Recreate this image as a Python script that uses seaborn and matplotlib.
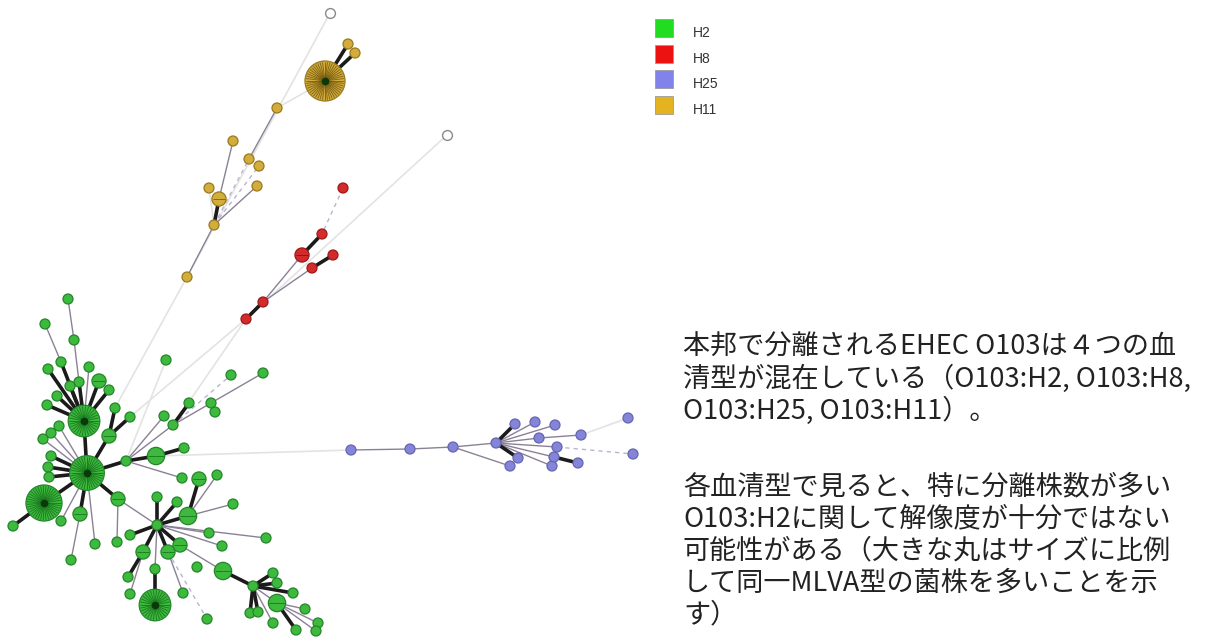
import numpy as np
import pandas as pd
import matplotlib
matplotlib.use("Agg")
import matplotlib.pyplot as plt
import seaborn as sns
from matplotlib.collections import LineCollection

# ---- MLVA minimum spanning tree: nodes (pixel layout), strain counts, serotype ----
node_id = [
    # H2
    "g1", "g2", "g3", "g4", "g5", "g6", "g7", "g8", "g9", "g10",
    "g11", "g12", "g13", "gA", "g15", "g16", "g17", "g18", "g19", "g20",
    "g21", "g22", "g23", "gB", "gC", "g26", "g27", "g28", "g29", "g30",
    "g31", "g32", "g33", "g34", "g35", "g36", "g37", "g38", "g39", "g40",
    "g41", "g42", "g43", "g44", "g45", "gD", "g47", "g48", "g49", "g50",
    "g51", "g52", "g53", "g54", "g55", "g56", "g57", "g58", "g59", "g60",
    "gE", "g62", "g63", "g64", "g65", "gF", "g67", "g68", "g69", "g70",
    "g71", "g72", "g73", "g74", "g75", "g76", "g77",
    # H11
    "y1", "y2", "y3", "yH", "y5", "y6", "y7", "y8", "y9", "y10", "y11", "y12", "y13",
    # H8
    "r1", "r2", "r3", "r4", "r5", "r6", "r7", "r8",
    # H25
    "b1", "b2", "b3", "bH", "b5", "b6", "b7", "b8", "b9", "b10",
    "b11", "b12", "b13", "b14", "b15", "b16", "b17",
]
node_x = [
    68, 45, 74, 61, 48, 89, 166, 79, 99, 109,
    70, 57, 47, 84, 115, 130, 109, 59, 51, 43,
    51, 48, 49, 87, 44, 13, 61, 80, 95, 71,
    118, 117, 126, 156, 184, 182, 164, 173, 189, 211,
    215, 231, 263, 199, 217, 157, 157, 177, 188, 233,
    130, 143, 168, 180, 209, 222, 266, 197, 223, 155,
    155, 128, 130, 183, 207, 253, 273, 277, 293, 277,
    250, 258, 273, 305, 296, 318, 316,
    330, 348, 355, 325, 277, 233, 249, 259, 209, 257, 219, 214, 187,
    447, 343, 322, 302, 333, 312, 263, 246,
    351, 410, 453, 496, 515, 535, 555, 539, 581, 628,
    557, 633, 510, 518, 552, 554, 578,
]
node_y = [
    299, 324, 340, 362, 369, 367, 360, 382, 381, 390,
    386, 396, 405, 421, 408, 417, 436, 426, 433, 439,
    456, 467, 477, 473, 503, 526, 521, 514, 544, 560,
    499, 542, 461, 456, 448, 478, 416, 425, 403, 403,
    412, 375, 373, 479, 475, 525, 497, 502, 516, 504,
    535, 552, 552, 545, 533, 546, 538, 567, 571, 569,
    605, 577, 594, 593, 619, 586, 573, 583, 593, 603,
    613, 612, 623, 609, 630, 623, 631,
    13, 44, 53, 81, 108, 141, 159, 166, 188, 186, 199, 225, 277,
    135, 188, 234, 255, 255, 268, 302, 319,
    450, 449, 447, 443, 424, 422, 425, 438, 435, 418,
    447, 454, 466, 458, 466, 457, 463,
]
node_count = [
    1, 1, 1, 1, 1, 1, 1, 1, 2, 1,
    1, 1, 1, 10, 1, 1, 2, 1, 1, 1,
    1, 1, 1, 12, 13, 1, 1, 2, 1, 1,
    2, 1, 1, 3, 1, 1, 1, 1, 1, 1,
    1, 1, 1, 2, 1, 1, 1, 1, 3, 1,
    1, 2, 2, 2, 1, 1, 1, 1, 3, 1,
    10, 1, 1, 1, 1, 1, 1, 1, 1, 3,
    1, 1, 1, 1, 1, 1, 1,
    0, 1, 1, 16, 1, 1, 1, 1, 1, 1, 2, 1, 1,
    0, 1, 1, 2, 1, 1, 1, 1,
    1, 1, 1, 1, 1, 1, 1, 1, 1, 1,
    1, 1, 1, 1, 1, 1, 1,
]
node_serotype = ["H2"] * 77 + ["H11"] * 13 + ["H8"] * 8 + ["H25"] * 17

# ---- tree edges: (source, target, link type) ----
edge_src = [
    "g1", "g3", "g8", "g2", "g4", "g5", "g6", "g9", "g10", "g11", "g12", "g13",
    "g15", "g16", "g17", "gA", "g18", "g19", "g20", "g21", "g22", "g23",
    "gC", "g26", "g27", "g28", "g29", "g30", "g31", "g32", "g33", "g34", "g35",
    "g36", "g37", "g38", "g38", "g38", "g40", "g38", "g7",
    "g31", "gD", "gD", "gD", "gD", "gD", "gD", "gD", "gD", "g44", "g45", "g50",
    "gD", "gD", "gD", "g54", "g53", "g53", "g60", "g62", "g63", "g59",
    "gF", "gF", "gF", "gF", "gF", "gF", "gF", "g70", "g70", "g70", "g70",
    # H11
    "yH", "yH", "y5", "y6", "y11", "y12", "y12", "y12", "y12", "y9", "y1", "yH",
    # H8
    "r2", "r3", "r5", "r4", "r6", "r7",
    # H25
    "b1", "b2", "b3", "b3", "bH", "bH", "bH", "bH", "bH", "bH", "bH", "bH",
    "b8", "b9", "b11", "b16",
    # links between serotypes
    "g15", "g16", "r8", "r1", "g34",
]
edge_dst = [
    "g3", "g8", "gA", "g4", "gA", "gA", "gA", "gA", "gA", "gA", "gA", "gA",
    "g17", "g17", "gB", "gB", "gB", "gB", "gB", "gB", "gB", "gB",
    "gB", "gC", "gB", "gB", "gB", "g28", "gB", "g31", "gB", "g33", "g34",
    "g33", "g33", "g33", "g39", "g40", "g43", "g42", "g33",
    "gD", "g47", "g48", "g49", "g51", "g52", "g53", "g54", "g60", "g49", "g49", "g49",
    "g55", "g56", "g57", "g59", "g64", "g65", "gE", "g52", "g52", "gF",
    "g67", "g68", "g69", "g70", "g71", "g72", "g73", "g74", "g75", "g76", "g77",
    "y2", "y3", "y7", "y11", "y12", "y7", "y8", "y10", "y13", "y12", "y13", "y5",
    "r3", "r4", "r6", "r7", "r7", "r8",
    "b2", "b3", "bH", "b13", "b5", "b6", "b7", "b8", "b11", "b14", "b15", "b16",
    "b9", "b10", "b12", "b17",
    "y13", "r8", "g38", "r8", "b1",
]
edge_kind = [
    "thin", "thin", "thick", "thin", "thick", "thick", "thin", "thick", "thick", "thick", "thick", "thick",
    "thick", "thick", "thick", "thick", "thin", "thin", "thin", "thick", "thick", "thick",
    "thick", "thick", "thin", "thick", "thin", "thin", "thick", "thin", "thick", "thick", "thick",
    "thin", "thin", "thin", "thick", "thin", "thin", "dash", "far",
    "thin", "thick", "thick", "thick", "thick", "thick", "thick", "thick", "thin", "thick", "thin", "thin",
    "thin", "thin", "thin", "thin", "thin", "dash", "thick", "thick", "thin", "thick",
    "thick", "thick", "thick", "thin", "thick", "thick", "thin", "thin", "thick", "thin", "thin",
    "thick", "thick", "thin", "thin", "thick", "dash", "dash", "thin", "thin", "far", "far", "far",
    "dash", "thick", "thick", "thin", "thin", "thick",
    "thin", "thin", "thin", "thin", "thick", "thin", "thin", "thin", "thin", "thick", "thin", "thin",
    "thin", "far", "dash", "thick",
    "far", "far", "far", "far", "far",
]

serotypes = ["H2", "H8", "H25", "H11"]
node_fill = {"H2": "#3dba3d", "H8": "#d32b2b", "H25": "#8585d8", "H11": "#d2ad3c"}
node_edge = {"H2": "#23862a", "H8": "#9e1a1a", "H25": "#6565b5", "H11": "#9a7a1c"}
spoke_col = {"H2": "#146b1a", "H8": "#7a0e0e", "H25": "#44448a", "H11": "#6d520c"}
legend_fill = {"H2": "#22dc22", "H8": "#ec1212", "H25": "#8282ec", "H11": "#e3b322"}

description = [
    ("本邦で分離されるEHEC O103は４つの血", 347),
    ("清型が混在している（O103:H2, O103:H8,", 379),
    ("O103:H25, O103:H11）。", 411),
    ("各血清型で見ると、特に分離株数が多い", 487),
    ("O103:H2に関して解像度が十分ではない", 519),
    ("可能性がある（大きな丸はサイズに比例", 551),
    ("して同一MLVA型の菌株を多いことを示", 583),
    ("す）", 615),
]

# ---- drawing ----
sns.set_theme(style="white")
plt.rcParams["font.family"] = ["Noto Sans CJK JP", "DejaVu Sans"]

W, H = 1220, 640
fig = plt.figure(figsize=(W / 100, H / 100), dpi=100)
ax = fig.add_axes([0, 0, 1, 1])
ax.set_xlim(0, W)
ax.set_ylim(H, 0)
ax.axis("off")

nodes = pd.DataFrame({"id": node_id, "x": node_x, "y": node_y,
                      "count": node_count, "serotype": node_serotype})
pos = {r.id: (r.x, r.y) for r in nodes.itertuples()}

edge_style = {
    "far":   dict(colors="#e3e3e3", linewidths=1.2, zorder=1),
    "dash":  dict(colors="#b9b4cf", linewidths=1.0, linestyles=(0, (3, 3)), zorder=2),
    "thin":  dict(colors="#8b8196", linewidths=1.0, zorder=2),
    "thick": dict(colors="#1b1b1b", linewidths=2.6, zorder=3),
}
for kind, style in edge_style.items():
    segs = [[pos[s], pos[d]] for s, d, k in zip(edge_src, edge_dst, edge_kind) if k == kind]
    ax.add_collection(LineCollection(segs, **style))

# circle radius in pixels grows with the square root of the strain count
PX = 0.72
area_per_strain = (2 * 5.0 * PX) ** 2
filled = nodes[nodes["count"] > 0]
cmin, cmax = filled["count"].min(), filled["count"].max()
sns.scatterplot(
    data=filled, x="x", y="y", hue="serotype", palette=node_fill,
    size="count", sizes=(area_per_strain * cmin, area_per_strain * cmax),
    size_norm=(cmin, cmax), legend=False, ax=ax, zorder=4,
    edgecolor=[node_edge[s] for s in filled["serotype"]], linewidth=0.9,
)
hollow = nodes[nodes["count"] == 0]
sns.scatterplot(data=hollow, x="x", y="y", ax=ax, s=50, color="white",
                edgecolor="#8a8a8a", linewidth=1.0, legend=False, zorder=4)

# wedge boundaries for nodes holding several strains
spokes = []
spoke_colors = []
for r in filled[filled["count"] > 1].itertuples():
    rad = 5.0 * np.sqrt(r.count) - 1.0
    n_sp = int(r.count * 3) if r.count > 3 else 2
    for a in np.linspace(0, 2 * np.pi, n_sp, endpoint=False):
        spokes.append([(r.x, r.y), (r.x + rad * np.cos(a), r.y + rad * np.sin(a))])
        spoke_colors.append(spoke_col[r.serotype])
ax.add_collection(LineCollection(spokes, colors=spoke_colors, linewidths=0.7,
                                 alpha=0.75, zorder=5))
big = filled[filled["count"] > 3]
ax.scatter(big["x"], big["y"], s=30, c="#0a3a0a", zorder=6, linewidths=0)

# legend
for i, sero in enumerate(serotypes):
    ly = 28 + i * 25.6
    ax.add_patch(plt.Rectangle((655, ly - 9), 18, 18, facecolor=legend_fill[sero],
                               edgecolor="#9a9a9a", linewidth=0.6, zorder=6))
    ax.text(693, ly + 5, sero, fontsize=10, color="#333333",
            family=["Liberation Sans"], va="center", ha="left")

for line, y in description:
    ax.text(683, y, line, fontsize=19.5, color="#222222", va="center", ha="left")

fig.savefig("out.png", dpi=100, facecolor="white")
